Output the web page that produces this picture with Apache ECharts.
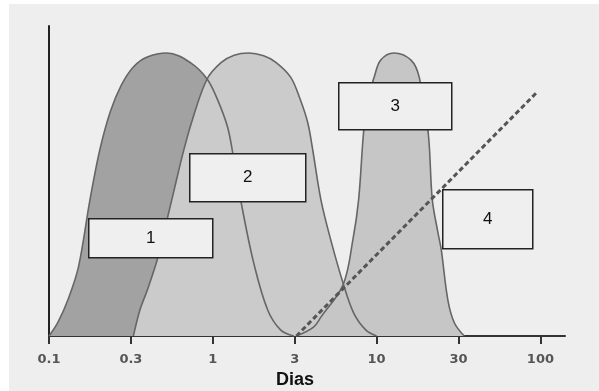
<!DOCTYPE html>
<html>
<head>
<meta charset="utf-8">
<script src="https://cdn.jsdelivr.net/npm/echarts@6/dist/echarts.min.js"></script>
<style>html,body{margin:0;padding:0;background:#fff}#c{width:599px;height:391px}</style>
</head>
<body>
<div id="c"></div>
<script>
// x values are axis positions: tick i stands for tickLabels[i] (ticks equally spaced)
const tickLabels = ['0.1', '0.3', '1', '3', '10', '30', '100'];
const tickPositions = [0, 1, 2, 3, 4, 5, 6];
const axisName = 'Dias';
const boxLabels = ['1', '2', '3', '4'];

const curve1 = [[0,0],[0.11,4.5],[0.23,11.6],[0.36,22.3],[0.5,43.9],[0.62,60],[0.75,72.5],[0.88,80.8],[1.03,86.8],[1.2,90],[1.44,91.3],[1.73,88.1],[1.93,82.9],[2.06,76.1],[2.18,67.4],[2.25,58],[2.34,43.9],[2.5,23.5],[2.67,8.4],[2.83,1.9],[2.99,0]];
const curve2 = [[1.03,0],[1.11,8.4],[1.2,14.8],[1.32,24.5],[1.44,37.4],[1.53,47.4],[1.64,59.4],[1.75,69.7],[1.93,82.9],[2.1,88.2],[2.26,90.6],[2.44,91.3],[2.62,90.4],[2.77,88.3],[2.95,83.5],[3.07,76.1],[3.16,68.7],[3.22,60],[3.32,43.9],[3.44,31],[3.59,17.1],[3.72,7.4],[3.87,1.9],[4.0,0]];
const curve3 = [[3.02,0],[3.23,2.9],[3.32,6.1],[3.59,16.5],[3.71,31],[3.78,43.9],[3.84,65.5],[3.89,76.1],[3.97,83.5],[4.05,89],[4.21,91.3],[4.42,89],[4.52,83.5],[4.63,65.5],[4.68,43.9],[4.75,33.2],[4.79,27.7],[4.87,11.6],[4.95,4.2],[5.07,0]];
const dashed4 = [[3.02,0],[5.96,78.7]];

const fills = ['#a2a2a2', '#cbcbcb', '#c6c6c6'];
const curves = [curve1, curve2, curve3];

const chart = echarts.init(document.getElementById('c'), null, {renderer: 'canvas'});

const series = [];
curves.forEach((d, i) => series.push({
  type: 'line', data: d, smooth: 0.35, symbol: 'none', z: 2,
  lineStyle: {width: 0, opacity: 0}, areaStyle: {color: fills[i], opacity: 1}
}));
curves.forEach((d) => series.push({
  type: 'line', data: d, smooth: 0.35, symbol: 'none', z: 3,
  lineStyle: {width: 1.6, color: '#666'}
}));
series.push({
  type: 'line', data: dashed4, symbol: 'none', z: 4,
  lineStyle: {width: 3, color: '#555', type: [5, 3]}
});

function box(x, y, w, h, t) {
  return {
    type: 'group', left: x, top: y,
    children: [
      {type: 'rect', z: 100, shape: {x: 0, y: 0, width: w, height: h}, style: {fill: '#efefef', stroke: '#222', lineWidth: 1.5}},
      {type: 'text', z: 101, x: w / 2, y: h / 2, style: {text: t, fill: '#111', font: '17px "Liberation Sans", Arial, sans-serif', align: 'center', verticalAlign: 'middle'}}
    ]
  };
}

chart.setOption({
  animation: false,
  backgroundColor: '#ffffff',
  grid: {left: 49, right: 34, top: 26, bottom: 55},
  xAxis: {
    type: 'value', min: 0, max: 6.3, interval: 1,
    splitLine: {show: false},
    axisLine: {lineStyle: {color: '#333', width: 2}},
    axisTick: {customValues: tickPositions, length: 8, lineStyle: {color: '#333', width: 2}},
    axisLabel: {customValues: tickPositions, margin: 17, color: '#555', fontSize: 13, fontWeight: 'bold', fontFamily: 'DejaVu Sans',
      formatter: v => tickLabels[Math.round(v)] ?? ''}
  },
  yAxis: {
    type: 'value', min: 0, max: 100,
    splitLine: {show: false},
    axisLine: {show: true, lineStyle: {color: '#222', width: 2}},
    axisTick: {show: false}, axisLabel: {show: false}
  },
  graphic: [
    {type: 'rect', left: 9, top: 4, z: -10, shape: {width: 590, height: 387}, style: {fill: '#eeeeee'}},
    {type: 'text', left: 276, top: 371, style: {text: axisName, fill: '#111', font: 'bold 18px "Liberation Sans", Arial, sans-serif'}},
    box(88, 218, 124, 39, boxLabels[0]),
    box(189, 153, 116, 48, boxLabels[1]),
    box(338, 82, 113, 47, boxLabels[2]),
    box(442, 189, 90, 59, boxLabels[3])
  ],
  series: series
});
</script>
</body>
</html>
